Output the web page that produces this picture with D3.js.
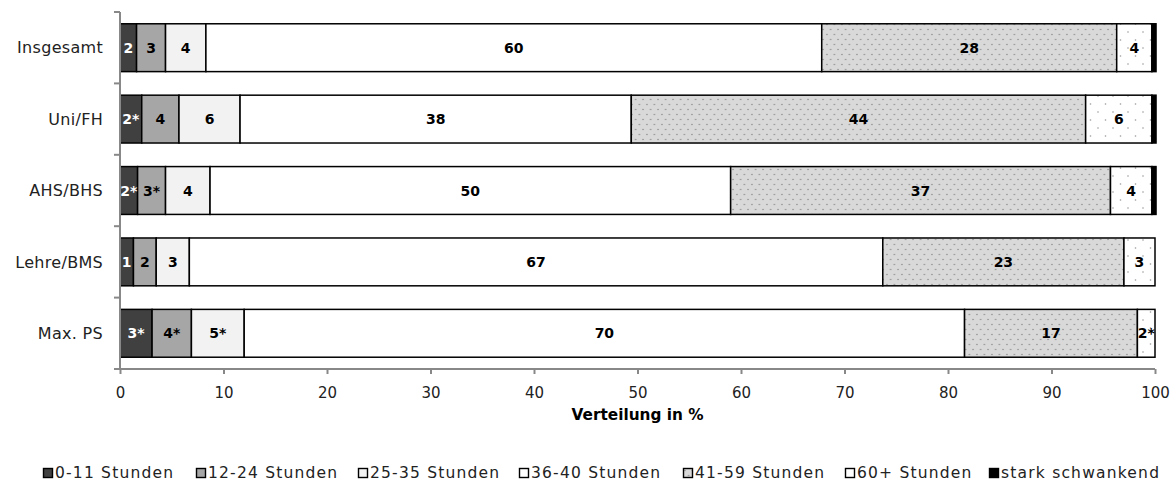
<!DOCTYPE html>
<html>
<head>
<meta charset="utf-8">
<script src="https://cdn.jsdelivr.net/npm/d3@7"></script>
<style>
body { margin: 0; background: #fff; overflow: hidden; }
svg { display: block; }
svg text { font-family: "DejaVu Sans", sans-serif; }
</style>
</head>
<body>
<div id="chart"></div>
<script>
var width = 1173, height = 481;
var margin = {top: 12, left: 120};

var categories = ["Insgesamt", "Uni/FH", "AHS/BHS", "Lehre/BMS", "Max. PS"];
var seriesNames = ["0-11 Stunden", "12-24 Stunden", "25-35 Stunden", "36-40 Stunden",
    "41-59 Stunden", "60+ Stunden", "stark schwankend"];

// shares per category, one array per series
var s0_11   = [1.6, 2.1, 1.7, 1.3, 3.1];
var s12_24  = [2.8, 3.6, 2.7, 2.2, 3.8];
var s25_35  = [3.9, 5.9, 4.3, 3.2, 5.1];
var s36_40  = [59.5, 37.8, 50.3, 67.0, 69.6];
var s41_59  = [28.5, 43.9, 36.7, 23.3, 16.7];
var s60     = [3.4, 6.4, 4.0, 3.0, 1.7];
var sSchw   = [0.4, 0.4, 0.4, 0.0, 0.0];

// printed labels
var l0_11  = ["2", "2*", "2*", "1", "3*"];
var l12_24 = ["3", "4", "3*", "2", "4*"];
var l25_35 = ["4", "6", "4", "3", "5*"];
var l36_40 = ["60", "38", "50", "67", "70"];
var l41_59 = ["28", "44", "37", "23", "17"];
var l60    = ["4", "6", "4", "3", "2*"];
var lSchw  = ["", "", "", "", ""];

var xTicks = [0, 10, 20, 30, 40, 50, 60, 70, 80, 90, 100];

var series = [
    {values: s0_11, labels: l0_11, fill: "#404040", text: "#fff"},
    {values: s12_24, labels: l12_24, fill: "#a6a6a6", text: "#000"},
    {values: s25_35, labels: l25_35, fill: "#f2f2f2", text: "#000"},
    {values: s36_40, labels: l36_40, fill: "#fff", text: "#000"},
    {values: s41_59, labels: l41_59, fill: "url(#dots1)", text: "#000"},
    {values: s60, labels: l60, fill: "url(#dots2)", text: "#000"},
    {values: sSchw, labels: lSchw, fill: "#000", text: "#fff"}
];

var svg = d3.select("#chart").append("svg")
    .attr("width", width)
    .attr("height", height);

// dotted fills
var defs = svg.append("defs");
var p1 = defs.append("pattern").attr("id", "dots1")
    .attr("patternUnits", "userSpaceOnUse").attr("width", 7.5).attr("height", 10);
p1.append("rect").attr("width", 7.5).attr("height", 10).attr("fill", "#d9d9d9");
p1.append("circle").attr("cx", 1.9).attr("cy", 2.5).attr("r", 0.75).attr("fill", "#888");
p1.append("circle").attr("cx", 5.6).attr("cy", 7.5).attr("r", 0.75).attr("fill", "#888");

var p2 = defs.append("pattern").attr("id", "dots2")
    .attr("patternUnits", "userSpaceOnUse").attr("width", 15).attr("height", 16);
p2.append("rect").attr("width", 15).attr("height", 16).attr("fill", "#fff");
p2.append("circle").attr("cx", 3).attr("cy", 4).attr("r", 0.8).attr("fill", "#999");
p2.append("circle").attr("cx", 10.5).attr("cy", 12).attr("r", 0.8).attr("fill", "#999");

var x = d3.scaleLinear().domain([0, 100]).range([0, 1035]);
var y = d3.scaleBand().domain(categories).range([0, 357])
    .paddingInner(0.33).paddingOuter(0.165);

var g = svg.append("g").attr("transform", "translate(" + margin.left + "," + margin.top + ")");

// stack
var rows = categories.map(function(c, i) {
    var acc = 0;
    return series.map(function(s) {
        var seg = {cat: c, x0: acc, x1: acc + s.values[i], label: s.labels[i], fill: s.fill, text: s.text};
        acc += s.values[i];
        return seg;
    });
});

var barG = g.selectAll(".bar").data(rows).enter().append("g").attr("class", "bar");

barG.selectAll("rect").data(function(d) { return d; }).enter().append("rect")
    .attr("x", function(d) { return x(d.x0); })
    .attr("y", function(d) { return y(d.cat); })
    .attr("width", function(d) { return Math.max(0, x(d.x1) - x(d.x0)); })
    .attr("height", y.bandwidth())
    .attr("fill", function(d) { return d.fill; })
    .attr("stroke", "#000")
    .attr("stroke-width", function(d) { return d.x1 - d.x0 > 0 ? 1.5 : 0; });

barG.selectAll("text").data(function(d) { return d; }).enter().append("text")
    .attr("x", function(d) { return (x(d.x0) + x(d.x1)) / 2; })
    .attr("y", function(d) { return y(d.cat) + y.bandwidth() / 2; })
    .attr("dy", "0.36em")
    .attr("text-anchor", "middle")
    .style("font-weight", "bold")
    .style("font-size", "14px")
    .attr("fill", function(d) { return d.text; })
    .text(function(d) { return d.label; });

// x axis
var xAxis = g.append("g").attr("transform", "translate(0," + 357 + ")")
    .call(d3.axisBottom(x).tickValues(xTicks).tickSize(5).tickPadding(13).tickSizeOuter(0));
xAxis.select(".domain").attr("stroke", "#888").attr("stroke-width", 2).attr("d", "M-6,0H" + x(100));
xAxis.selectAll(".tick line").attr("stroke", "#888").attr("stroke-width", 2);
xAxis.selectAll(".tick text").style("font-size", "15px").attr("fill", "#222");

// y axis
var yAxisG = g.append("g");
yAxisG.append("line").attr("x1", 0).attr("x2", 0).attr("y1", 0).attr("y2", 357)
    .attr("stroke", "#888").attr("stroke-width", 2);
yAxisG.selectAll(".yt").data(d3.range(categories.length)).enter().append("line")
    .attr("x1", -6).attr("x2", 0)
    .attr("y1", function(i) { return i * y.step(); })
    .attr("y2", function(i) { return i * y.step(); })
    .attr("stroke", "#888").attr("stroke-width", 2);
yAxisG.selectAll(".ylab").data(categories).enter().append("text")
    .attr("x", -17)
    .attr("y", function(d) { return y(d) + y.bandwidth() / 2; })
    .attr("dy", "0.36em")
    .attr("text-anchor", "end")
    .style("font-size", "16px")
    .style("letter-spacing", "0.3px")
    .attr("fill", "#222")
    .text(function(d) { return d; });

// axis title
svg.append("text")
    .attr("x", margin.left + x(50))
    .attr("y", 420)
    .attr("text-anchor", "middle")
    .style("font-weight", "bold")
    .style("font-size", "15.3px")
    .text("Verteilung in %");

// legend
var legendX = [43, 196, 358, 519, 683, 845, 989];
var legendFill = ["#404040", "#a6a6a6", "#f2f2f2", "#fff", "url(#dots1)", "#fff", "#000"];
var leg = svg.selectAll(".leg").data(seriesNames).enter().append("g")
    .attr("transform", function(d, i) { return "translate(" + legendX[i] + ",478)"; });
leg.append("rect").attr("x", 0.5).attr("y", -9.5).attr("width", 9).attr("height", 9)
    .attr("fill", function(d, i) { return legendFill[i]; })
    .attr("stroke", "#000").attr("stroke-width", 1.4);
leg.append("text").attr("x", 12).attr("y", 0)
    .style("font-size", "15.5px")
    .style("letter-spacing", "1.2px")
    .attr("fill", "#222")
    .text(function(d) { return d; });
</script>
</body>
</html>
